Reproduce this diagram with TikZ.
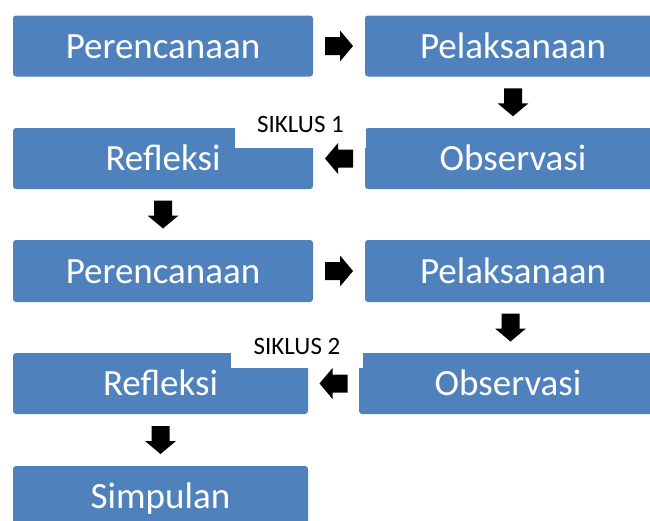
\documentclass[tikz,border=0pt]{standalone}
\usepackage{fontspec}
\setmainfont{Carlito}
\usetikzlibrary{calc}
\definecolor{boxblue}{HTML}{4F81BD}
\tikzset{
  stagebox/.style={rectangle, rounded corners=3pt, fill=boxblue, text=white,
    font=\fontsize{37}{40}\selectfont, inner sep=0pt, text height=24pt, text depth=0pt},
  cyclelabel/.style={rectangle, fill=white, text=black, inner sep=0pt,
    font=\fontsize{25}{28}\selectfont},
  barrow/.pic={\fill[black] (-14,-9) -- (1,-9) -- (1,-15.5) -- (14,0) -- (1,15.5) -- (1,9) -- (-14,9) -- cycle;}
}
\begin{document}
\begin{tikzpicture}[x=1pt,y=-1pt]
\useasboundingbox (0,0) rectangle (650,520);
\clip (0,0) rectangle (650,520);
% cycle 1
\node[stagebox, minimum width=300pt, minimum height=61pt] (p1) at (163,46) {Perencanaan};
\node[stagebox, minimum width=296pt, minimum height=61pt] (l1) at (513,46) {Pelaksanaan};
\node[stagebox, minimum width=300pt, minimum height=61pt] (r1) at (163,158.5) {Refleksi};
\node[stagebox, minimum width=296pt, minimum height=61pt] (o1) at (513,158.5) {Observasi};
% cycle 2
\node[stagebox, minimum width=300pt, minimum height=62pt] (p2) at (163,271) {Perencanaan};
\node[stagebox, minimum width=296pt, minimum height=62pt] (l2) at (513,271) {Pelaksanaan};
\node[stagebox, minimum width=295pt, minimum height=61pt] (r2) at (160.5,383.5) {Refleksi};
\node[stagebox, minimum width=298pt, minimum height=61pt] (o2) at (508,383.5) {Observasi};
\node[stagebox, minimum width=295pt, minimum height=61pt] (s) at (160.5,496.5) {Simpulan};
% cycle labels
\node[cyclelabel, minimum width=131pt, minimum height=48pt] (k1) at (300.5,124) {SIKLUS 1};
\node[cyclelabel, minimum width=132pt, minimum height=44pt] (k2) at (297,346) {SIKLUS 2};
% block arrows
\pic at ($(p1.east)!0.5!(l1.west)$) {barrow};
\pic[rotate=-90] at ($(l1.south)!0.5!(o1.north)$) {barrow};
\pic[rotate=180] at ($(o1.west)!0.5!(r1.east)$) {barrow};
\pic[rotate=-90] at ($(r1.south)!0.5!(p2.north)$) {barrow};
\pic at ($(p2.east)!0.5!(l2.west)$) {barrow};
\pic[rotate=-90] at ($(l2.south)!0.5!(o2.north)$) {barrow};
\pic[rotate=180] at ($(o2.west)!0.5!(r2.east)$) {barrow};
\pic[rotate=-90] at ($(r2.south)!0.5!(s.north)$) {barrow};
\end{tikzpicture}
\end{document}
